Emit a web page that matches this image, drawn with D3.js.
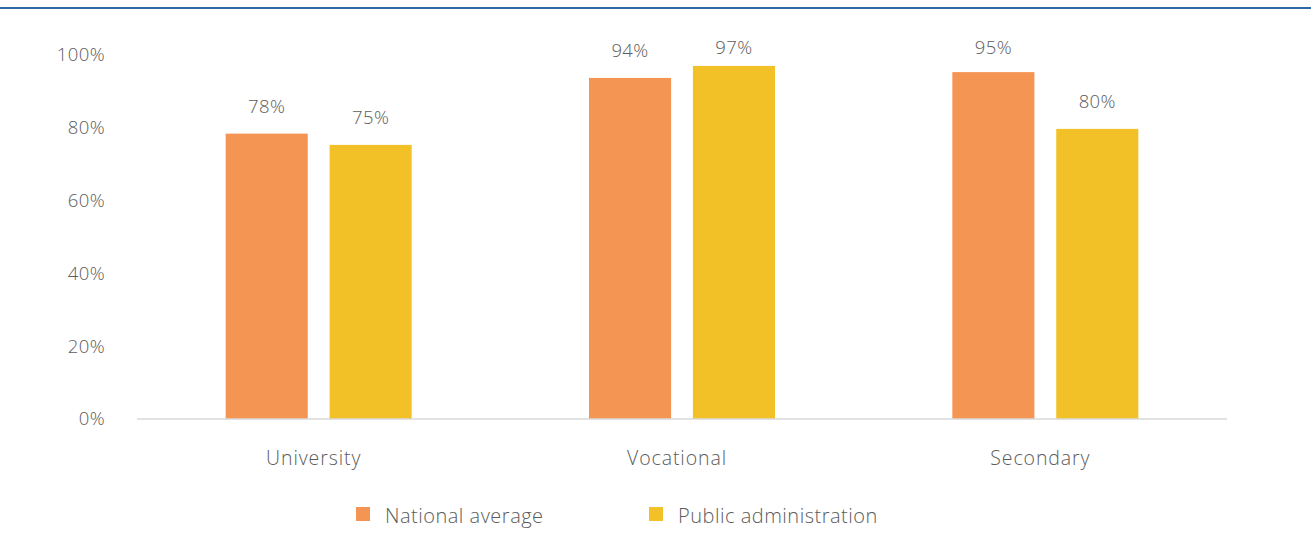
<!DOCTYPE html>
<html>
<head>
<meta charset="utf-8">
<script src="https://cdn.jsdelivr.net/npm/d3@7"></script>
<style>
    body { margin: 0; background: #fff; }
    svg text { font-family: "Open Sans", "Noto Sans", sans-serif; fill: #5c5c5c; }
</style>
</head>
<body>
<div class="panel"></div>
<script>

const categories = ["University", "Vocational", "Secondary"];
const series = ["National average", "Public administration"];
const nationalAverage = [78.4, 93.7, 95.3];
const publicAdministration = [75.3, 97.0, 79.7];
const yTicks = [0, 20, 40, 60, 80, 100];

const colors = { orange: "#F59554", yellow: "#F2C128", blue: "#2F68A6", grid: "#D9D9D9" };
const dim = { width: 1311, height: 552 };
const margin = { left: 137, right: 84, top: 55, bottom: 133 };

const rows = categories.map((c, i) => ({
    cat: c,
    values: [nationalAverage[i], publicAdministration[i]]
}));

const svg = d3.select(".panel").append("svg")
    .attr("width", dim.width)
    .attr("height", dim.height);

// Top rule
svg.append("line")
    .attr("x1", 0).attr("x2", dim.width)
    .attr("y1", 8).attr("y2", 8)
    .attr("stroke", colors.blue)
    .attr("stroke-width", 2);

// Scales
const x = d3.scaleBand()
    .domain(categories)
    .range([margin.left, dim.width - margin.right]);

const xInner = d3.scaleBand()
    .domain(series)
    .range([0, 186])
    .paddingInner(0.21);

const y = d3.scaleLinear()
    .domain([0, 100])
    .range([dim.height - margin.bottom, margin.top]);

const color = d3.scaleOrdinal().domain(series).range([colors.orange, colors.yellow]);

// Y axis labels
svg.append("g")
    .selectAll("text")
    .data(yTicks)
    .join("text")
    .attr("x", 105)
    .attr("y", d => y(d))
    .attr("dy", "0.35em")
    .attr("text-anchor", "end")
    .style("font-size", "18.5px")
    .style("font-weight", 300)
    .style("letter-spacing", "0.4px")
    .text(d => d + "%");

// Bars
const groups = svg.append("g")
    .selectAll("g")
    .data(rows)
    .join("g")
    .attr("transform", d => `translate(${ x(d.cat) + x.bandwidth() / 2 - 93 }, 0)`);

groups.selectAll("rect")
    .data(d => d.values.map((v, i) => ({ s: series[i], v })))
    .join("rect")
    .attr("x", d => xInner(d.s))
    .attr("width", xInner.bandwidth())
    .attr("y", d => y(d.v))
    .attr("height", d => y(0) - y(d.v))
    .attr("fill", d => color(d.s));

// labels stay inside the plot area near the top
groups.selectAll("text")
    .data(d => d.values.map((v, i) => ({ s: series[i], v })))
    .join("text")
    .attr("x", d => xInner(d.s) + xInner.bandwidth() / 2)
    .attr("y", d => Math.max(y(d.v) - 21, 54))
    .attr("text-anchor", "middle")
    .style("font-size", "18.5px")
    .style("font-weight", 300)
    .style("letter-spacing", "0.4px")
    .text(d => Math.round(d.v) + "%");

// Baseline
svg.append("line")
    .attr("x1", margin.left).attr("x2", dim.width - margin.right)
    .attr("y1", y(0)).attr("y2", y(0))
    .attr("stroke", colors.grid)
    .attr("stroke-width", 1.5);

// Category labels
svg.append("g")
    .selectAll("text")
    .data(categories)
    .join("text")
    .attr("x", d => x(d) + x.bandwidth() / 2 - 5)
    .attr("y", 458)
    .attr("dy", "0.35em")
    .attr("text-anchor", "middle")
    .style("font-size", "19.5px")
    .style("font-weight", 300)
    .style("letter-spacing", "0.9px")
    .text(d => d);

// Legend
const legendX = [356, 649];
const legend = svg.append("g")
    .selectAll("g")
    .data(series)
    .join("g")
    .attr("transform", (d, i) => `translate(${ legendX[i] }, 507)`);

legend.append("rect")
    .attr("width", 14).attr("height", 14)
    .attr("fill", d => color(d));

legend.append("text")
    .attr("x", 29)
    .attr("y", 8)
    .attr("dy", "0.4em")
    .style("font-size", "20px")
    .style("font-weight", 300)
    .style("letter-spacing", "0.5px")
    .text(d => d);

</script>
</body>
</html>
